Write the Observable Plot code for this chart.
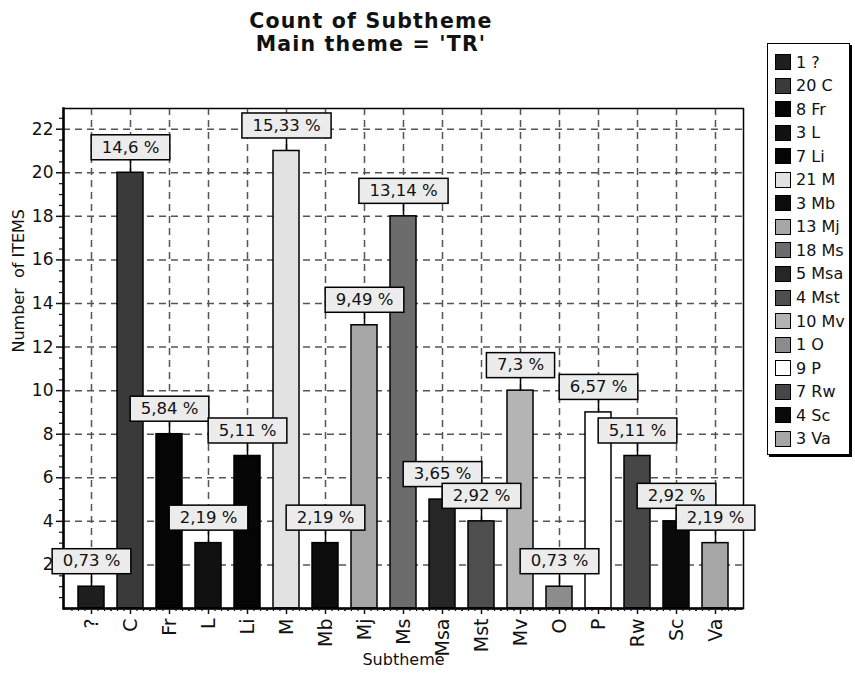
<!DOCTYPE html>
<html><head><meta charset="utf-8">
<script src="https://cdn.jsdelivr.net/npm/d3@7"></script>
<script src="https://cdn.jsdelivr.net/npm/@observablehq/plot@0.6"></script>
<style>
body{margin:0;background:#fff;font-family:"DejaVu Sans",sans-serif;}
#wrap{position:relative;width:855px;height:676px;overflow:hidden;background:#fff;}
#chart{position:absolute;left:0;top:0;}
.title{position:absolute;left:0;width:742px;text-align:center;font-weight:bold;font-size:20.5px;line-height:22px;letter-spacing:1.2px;color:#111;white-space:nowrap;}
#legend{position:absolute;left:767px;top:43px;width:83px;height:412px;border:1.5px solid #000;box-shadow:2px 2px 0 #000;background:#fff;box-sizing:border-box;}
.row{position:absolute;left:7px;height:20px;display:flex;align-items:center;font-size:16px;color:#111;white-space:nowrap;}
.sw{width:16px;height:16px;border:1.5px solid #000;box-sizing:border-box;margin-right:5px;flex:none;}
</style></head>
<body><div id="wrap"><div id="chart"></div><div class="title" id="t1" style="top:10px">Count of Subtheme</div><div class="title" id="t2" style="top:33px">Main theme = 'TR'</div><div id="legend"></div></div>
<script>
const subthemes = ["?","C","Fr","L","Li","M","Mb","Mj","Ms","Msa","Mst","Mv","O","P","Rw","Sc","Va"];
const counts = [1,20,8,3,7,21,3,13,18,5,4,10,1,9,7,4,3];
const percentLabels = ["0,73 %","14,6 %","5,84 %","2,19 %","5,11 %","15,33 %","2,19 %","9,49 %","13,14 %","3,65 %","2,92 %","7,3 %","0,73 %","6,57 %","5,11 %","2,92 %","2,19 %"];
const colors = ["#1e1e1e","#3a3a3a","#050505","#111111","#050505","#e2e2e2","#0c0c0c","#a6a6a6","#6c6c6c","#262626","#4e4e4e","#b4b4b4","#8c8c8c","#ffffff","#464646","#0a0a0a","#a6a6a6"];
const yTicks = [2,4,6,8,10,12,14,16,18,20,22];
const yMinorTicks = d3.range(0.5, 23, 0.5).filter(v => v % 2 !== 0);
const xTitle = "Subtheme";
const yTitle = "Number  of ITEMS";

const data = subthemes.map((s, i) => ({sub: s, count: counts[i], pct: percentLabels[i], color: colors[i]}));

const W = 855, H = 676, ML = 63, MR = 112, MT = 108, MB = 68;
const padIn = 0.335, padOut = 0.36;
const step = (W - ML - MR) / (subthemes.length - padIn + 2 * padOut);
const dash = {stroke: "#555", strokeOpacity: 1, strokeWidth: 1.5, strokeDasharray: "7,5"};

const minorX = [-3, -2, -1, 1, 2, 3].map(k =>
  Plot.axisX(subthemes, {tickSize: 3, dx: k * step / 6, tickFormat: () => "", label: null, strokeWidth: 1.2}));

const plot = Plot.plot({
  width: W, height: H,
  marginLeft: ML, marginRight: MR, marginTop: MT, marginBottom: MB,
  style: {fontFamily: "DejaVu Sans", fontSize: "17px", color: "#111", background: "transparent", overflow: "visible"},
  x: {type: "band", domain: subthemes, paddingInner: padIn, paddingOuter: padOut, label: null},
  y: {domain: [0, 22.95], label: null},
  color: {type: "identity"},
  marks: [
    Plot.gridY(yTicks, dash),
    Plot.gridX(subthemes, dash),
    Plot.barY(data, {x: "sub", y: "count", fill: "color", stroke: "#000", strokeWidth: 1.5}),
    Plot.frame({stroke: "#000", strokeWidth: 1.5}),
    Plot.ruleY([0], {stroke: "#000", strokeWidth: 2.5}),
    Plot.frame({anchor: "left", stroke: "#000", strokeWidth: 2.5}),
    Plot.axisY(yTicks, {tickSize: 7, tickPadding: 3, fontSize: 17, label: null, strokeWidth: 1.5}),
    Plot.axisY(yMinorTicks, {tickSize: 4, tickFormat: () => "", label: null, strokeWidth: 1.2}),
    Plot.axisX(subthemes, {tickSize: 6, tickPadding: 4, tickRotate: -90, fontSize: 19, label: null, strokeWidth: 1.5}),
    ...minorX,
    Plot.text([yTitle], {frameAnchor: "left", dx: -45, dy: -6, rotate: -90, fontSize: 16, fill: "#111"}),
    Plot.text([xTitle], {frameAnchor: "bottom", dy: 56, fontSize: 16, fill: "#111"}),
    Plot.text(data, {x: "sub", y: "count", text: "pct", dy: -25.5, fontSize: 16.5, fill: "#111"})
  ]
});
document.getElementById("chart").append(plot);

// label boxes + leader lines (the last text mark holds the percentage labels)
const ns = "http://www.w3.org/2000/svg";
const textGroups = plot.querySelectorAll('g[aria-label="text"]');
const labelGroup = textGroups[textGroups.length - 1];
Array.from(labelGroup.querySelectorAll("text")).forEach(function(el) {
  const b = el.getBBox();
  const t = el.getAttribute("transform") || "";
  const cx = b.x + b.width / 2;
  const w = b.width + 21;
  const line = document.createElementNS(ns, "line");
  line.setAttribute("transform", t);
  line.setAttribute("x1", cx); line.setAttribute("x2", cx);
  line.setAttribute("y1", 12.5); line.setAttribute("y2", 25.5);
  line.setAttribute("stroke", "#000"); line.setAttribute("stroke-width", 1.5);
  const rect = document.createElementNS(ns, "rect");
  rect.setAttribute("transform", t);
  rect.setAttribute("x", cx - w / 2); rect.setAttribute("y", -12.5);
  rect.setAttribute("width", w); rect.setAttribute("height", 25);
  rect.setAttribute("fill", "#ececec"); rect.setAttribute("stroke", "#000"); rect.setAttribute("stroke-width", 1.5);
  el.parentNode.insertBefore(line, el);
  el.parentNode.insertBefore(rect, el);
});

// legend
const legend = document.getElementById("legend");
subthemes.forEach((s, i) => {
  const row = document.createElement("div");
  row.className = "row";
  row.style.top = (8 + i * 23.55) + "px";
  const sw = document.createElement("div");
  sw.className = "sw";
  sw.style.background = colors[i];
  row.append(sw, document.createTextNode(counts[i] + " " + s));
  legend.append(row);
});
</script>
</body></html>
